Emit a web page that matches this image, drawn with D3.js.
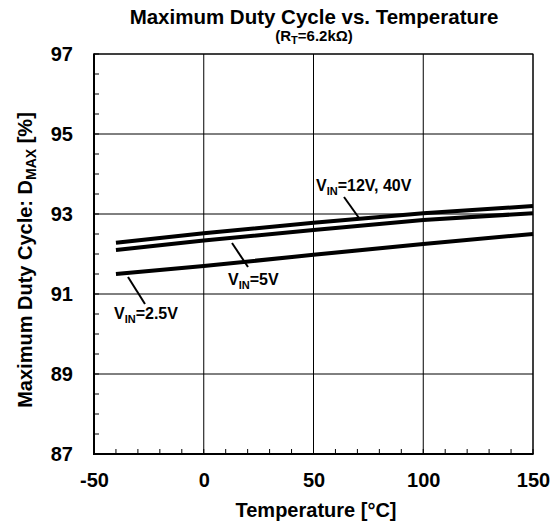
<!DOCTYPE html>
<html><head><meta charset="utf-8">
<script src="https://cdn.jsdelivr.net/npm/d3@7"></script>
<style>body{margin:0;background:#fff}svg{display:block}text{font-family:"Liberation Sans",Arial,sans-serif;font-weight:bold;fill:#000}</style>
</head><body><svg id="c" width="559" height="527"></svg>
<script>
const temps = [-40, 0, 50, 100, 150];
const vin12_40 = [92.28, 92.52, 92.78, 93.02, 93.2];
const vin5 = [92.1, 92.34, 92.6, 92.85, 93.02];
const vin2_5 = [91.5, 91.7, 91.98, 92.25, 92.5];
const xTicks = [-50, 0, 50, 100, 150];
const yTicks = [87, 89, 91, 93, 95, 97];

const svg = d3.select("#c");
const L = 94, R = 533, T = 54, B = 454;
const x = d3.scaleLinear().domain([-50, 150]).range([L, R]);
const y = d3.scaleLinear().domain([87, 97]).range([B, T]);

// grid
const g = svg.append("g");
xTicks.slice(1).forEach(v => g.append("line").attr("x1", x(v)).attr("x2", x(v)).attr("y1", T).attr("y2", B).attr("stroke", "#000").attr("stroke-width", 1));
yTicks.slice(1).forEach(v => g.append("line").attr("x1", L).attr("x2", R).attr("y1", y(v)).attr("y2", y(v)).attr("stroke", "#000").attr("stroke-width", 1));

// minor ticks
d3.range(-50, 151, 10).forEach(v => g.append("line").attr("x1", x(v)).attr("x2", x(v)).attr("y1", B).attr("y2", B - 5).attr("stroke", "#000"));
d3.range(87, 97.01, 0.5).forEach(v => g.append("line").attr("x1", L).attr("x2", L + 5).attr("y1", y(v)).attr("y2", y(v)).attr("stroke", "#000"));

// frame
g.append("rect").attr("x", L).attr("y", T).attr("width", R - L).attr("height", B - T).attr("fill", "none").attr("stroke", "#000").attr("stroke-width", 1);
g.append("line").attr("x1", L).attr("x2", L).attr("y1", T - 0.5).attr("y2", B).attr("stroke", "#000").attr("stroke-width", 2);
g.append("line").attr("x1", L - 1).attr("x2", R + 0.5).attr("y1", B).attr("y2", B).attr("stroke", "#000").attr("stroke-width", 2);

// axes labels
const xa = d3.axisBottom(x).tickValues(xTicks).tickSize(0).tickPadding(19).tickFormat(d => String(d));
const xg = svg.append("g").attr("transform", `translate(0,${B})`).call(xa);
xg.select(".domain").remove();
xg.selectAll("text").style("font-size", "20px").attr("dy", "0.71em");
const ya = d3.axisLeft(y).tickValues(yTicks).tickSize(0).tickPadding(21).tickFormat(d => String(d));
const yg = svg.append("g").attr("transform", `translate(${L},0)`).call(ya);
yg.select(".domain").remove();
yg.selectAll("text").style("font-size", "20px");

// lines
const line = d3.line().x((d, i) => x(temps[i])).y(d => y(d));
[vin12_40, vin5, vin2_5].forEach(s => svg.append("path").attr("d", line(s)).attr("fill", "none").attr("stroke", "#000").attr("stroke-width", 4));

// annotations
function ann(tx, ty, sub, rest, lx1, ly1, lx2, ly2) {
  svg.append("line").attr("x1", lx1).attr("y1", ly1).attr("x2", lx2).attr("y2", ly2).attr("stroke", "#000").attr("stroke-width", 2);
  const t = svg.append("text").attr("x", tx).attr("y", ty).style("font-size", "16px");
  t.append("tspan").text("V");
  t.append("tspan").attr("dy", 4).style("font-size", "11px").text(sub);
  t.append("tspan").attr("dy", -4).text(rest);
}
ann(316, 191, "IN", "=12V, 40V", 344, 197, 359, 218);
ann(228, 285, "IN", "=5V", 232, 243, 248, 267);
ann(114, 319, "IN", "=2.5V", 128, 277, 145, 304);

// titles
svg.append("text").attr("x", 314).attr("y", 24).attr("text-anchor", "middle").style("font-size", "20.5px").text("Maximum Duty Cycle vs. Temperature");
const st = svg.append("text").attr("x", 314).attr("y", 41).attr("text-anchor", "middle").style("font-size", "15px");
st.append("tspan").text("(R");
st.append("tspan").attr("dy", 3).style("font-size", "11px").text("T");
st.append("tspan").attr("dy", -3).text("=6.2kΩ)");

svg.append("text").attr("x", 316).attr("y", 517).attr("text-anchor", "middle").style("font-size", "20px").text("Temperature [°C]");
const yt = svg.append("text").attr("transform", `translate(32,260) rotate(-90)`).attr("text-anchor", "middle").style("font-size", "20px");
yt.append("tspan").text("Maximum Duty Cycle: D");
yt.append("tspan").attr("dy", 4).style("font-size", "14px").text("MAX");
yt.append("tspan").attr("dy", -4).text(" [%]");
</script></body></html>
